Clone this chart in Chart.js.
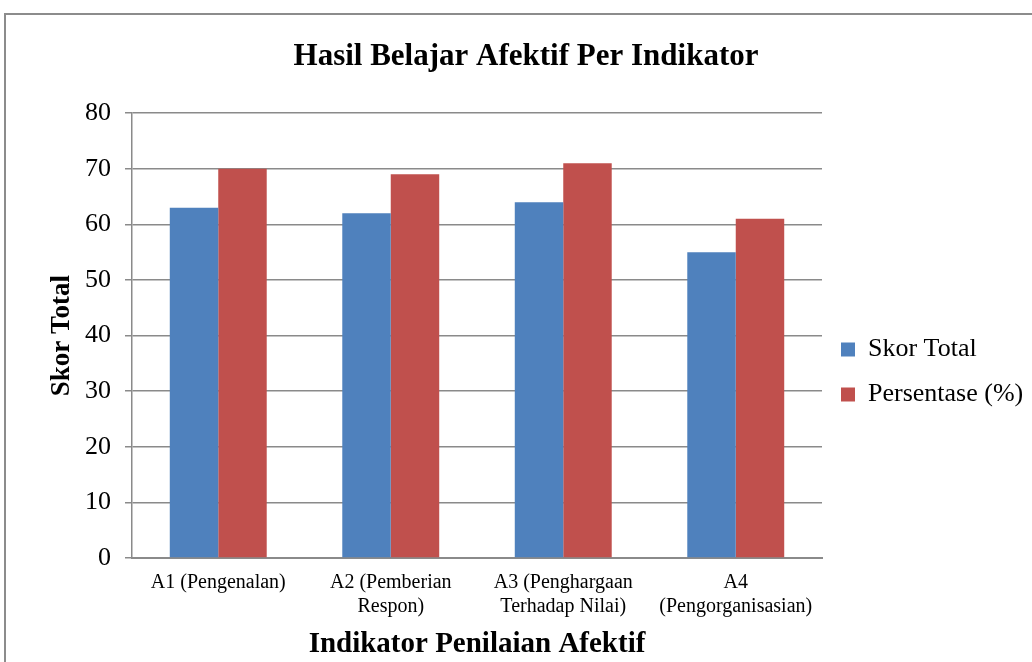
<!DOCTYPE html>
<html>
<head>
<meta charset="utf-8">
<script src="https://cdn.jsdelivr.net/npm/chart.js@4.4.1/dist/chart.umd.min.js"></script>
<style>
  html, body { margin: 0; padding: 0; background: #fff; }
  #wrap { width: 1032px; height: 662px; position: relative; }
</style>
</head>
<body>
<div id="wrap"><canvas id="myChart" width="1032" height="662"></canvas></div>
<script>
// data
const categories = [
  'A1 (Pengenalan)',
  ['A2 (Pemberian', 'Respon)'],
  ['A3 (Penghargaan', 'Terhadap Nilai)'],
  ['A4', '(Pengorganisasian)']
];
const skorTotal = [63, 62, 64, 55];
const persentase = [70, 69, 71, 61];
const yTicks = [0, 10, 20, 30, 40, 50, 60, 70, 80];

const serif = "'Liberation Serif', 'Times New Roman', serif";
const gridGray = '#8a8a8a';

// outer frame like the pasted Excel chart + legend tweaks
const framePlugin = {
  id: 'frame',
  afterInit(chart) {
    // fixed legend column width so the plot ends where the original does
    const lg = chart.legend;
    const fit = lg.fit;
    lg.fit = function () {
      fit.call(this);
      this.width = 210;
    };
  },
  beforeDraw(chart) {
    const ctx = chart.ctx;
    ctx.save();
    ctx.strokeStyle = '#8c8c8c';
    ctx.lineWidth = 2;
    ctx.strokeRect(5, 14, 1100, 700);
    ctx.restore();
  },
  afterLayout(chart) {
    // legend sits lower than the canvas centre
    const lg = chart.legend;
    lg.top += 41;
    lg.bottom += 41;
  }
};

const ctx = document.getElementById('myChart').getContext('2d');
new Chart(ctx, {
  type: 'bar',
  data: {
    labels: categories,
    datasets: [
      { label: 'Skor Total', data: skorTotal, backgroundColor: '#4F81BD' },
      { label: 'Persentase (%)', data: persentase, backgroundColor: '#C0504D' }
    ]
  },
  options: {
    responsive: false,
    animation: false,
    layout: { padding: { left: 20, right: 0, top: 0, bottom: 0 } },
    datasets: { bar: { categoryPercentage: 0.562, barPercentage: 1 } },
    plugins: {
      title: {
        display: true,
        text: 'Hasil Belajar Afektif Per Indikator',
        color: '#000',
        font: { family: serif, size: 31, weight: 'bold', lineHeight: 1.2 },
        padding: { top: 38, bottom: 38 }
      },
      legend: {
        position: 'right',
        labels: {
          color: '#000',
          font: { family: serif, size: 26 },
          boxWidth: 14,
          boxHeight: 14,
          padding: 19
        }
      },
      tooltip: { enabled: false }
    },
    scales: {
      x: {
        grid: { display: false, drawTicks: false },
        border: { display: true, color: gridGray, width: 2 },
        ticks: {
          color: '#000',
          font: { family: serif, size: 20, lineHeight: 1.2 },
          padding: 13,
          maxRotation: 0,
          autoSkip: false
        },
        title: {
          display: true,
          text: 'Indikator Penilaian Afektif',
          color: '#000',
          font: { family: serif, size: 29, weight: 'bold', lineHeight: 1.2 },
          padding: { top: 0, bottom: 0 }
        },
        afterFit(scale) { scale.height = 104; }
      },
      y: {
        min: 0,
        max: 80,
        afterBuildTicks(scale) { scale.ticks = yTicks.map(v => ({ value: v })); },
        grid: { color: gridGray, lineWidth: 1.5, tickLength: 7, drawTicks: true },
        border: { display: true, color: gridGray, width: 1.5 },
        ticks: { color: '#000', font: { family: serif, size: 26 }, padding: 14 },
        title: {
          display: true,
          text: 'Skor Total',
          color: '#000',
          font: { family: serif, size: 27, weight: 'bold', lineHeight: 1.2 },
          padding: { top: 26, bottom: 0 }
        },
        afterFit(scale) { scale.width = 112; }
      }
    }
  },
  plugins: [framePlugin]
});
</script>
</body>
</html>
